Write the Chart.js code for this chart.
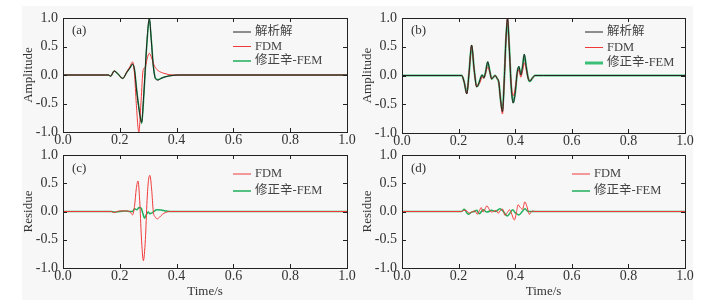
<!DOCTYPE html>
<html>
<head>
<meta charset="utf-8">
<script src="https://cdn.jsdelivr.net/npm/chart.js@4"></script>
<style>
  body { margin: 0; background: #fff; }
  #wrap { position: relative; width: 726px; height: 300px; }
  #bg { position: absolute; left: 22px; top: 6px; width: 671px; height: 294px; background: #f7f7f7; }
  canvas { position: absolute; }
</style>
</head>
<body>
<div id="wrap">
  <div id="bg"></div>
  <canvas id="pa"></canvas>
  <canvas id="pb"></canvas>
  <canvas id="pc"></canvas>
  <canvas id="pd"></canvas>
</div>
<script>
// (a) single wave: analytical / FDM / modified symplectic FEM
const tA   = [0, 0.15, 0.16, 0.168, 0.18, 0.195, 0.21, 0.225, 0.235, 0.245, 0.252, 0.259, 0.268, 0.277, 0.283, 0.289, 0.295, 0.304, 0.311, 0.318, 0.326, 0.335, 0.345, 0.355, 0.37, 0.39, 0.42, 0.5, 1.0];
const anaA = [0, 0, 0, -0.02, 0.07, 0.01, -0.06, 0.05, 0.12, 0.19, 0.08, -0.26, -0.61, -0.83, -0.45, 0.05, 0.55, 1.0, 0.6, 0.15, -0.07, -0.09, -0.06, -0.04, -0.02, -0.005, 0, 0, 0];
const femA = [0, 0, 0, -0.02, 0.07, 0.01, -0.06, 0.05, 0.12, 0.19, 0.09, -0.24, -0.6, -0.85, -0.5, 0.02, 0.52, 0.98, 0.62, 0.17, -0.06, -0.08, -0.06, -0.04, -0.02, -0.005, 0, 0, 0];
const tFdmA = [0, 0.15, 0.16, 0.168, 0.18, 0.195, 0.21, 0.225, 0.235, 0.245, 0.252, 0.258, 0.267, 0.275, 0.282, 0.29, 0.297, 0.304, 0.312, 0.32, 0.33, 0.34, 0.355, 0.37, 0.39, 0.5, 1.0];
const fdmA  = [0, 0, 0, -0.02, 0.07, 0.01, -0.06, 0.06, 0.14, 0.23, 0.0, -0.5, -1.0, -0.45, 0.08, 0.14, 0.3, 0.38, 0.3, 0.18, 0.1, 0.06, 0.03, 0.01, 0, 0, 0];

// (b) multi wave
const tB   = [0, 0.2, 0.211, 0.22, 0.229, 0.237, 0.246, 0.255, 0.264, 0.27, 0.276, 0.283, 0.289, 0.295, 0.303, 0.31, 0.317, 0.323, 0.329, 0.336, 0.342, 0.349, 0.355, 0.362, 0.367, 0.373, 0.379, 0.386, 0.393, 0.4, 0.407, 0.413, 0.42, 0.426, 0.432, 0.439, 0.446, 0.452, 0.46, 0.47, 0.5, 1.0];
const anaB = [0, 0, 0, -0.12, -0.32, 0.05, 0.53, 0.1, -0.2, -0.16, -0.07, 0.01, -0.04, 0.05, 0.24, 0.08, -0.06, -0.03, 0.0, -0.05, -0.12, -0.45, -0.63, 0.0, 0.6, 1.0, 0.5, -0.2, -0.48, -0.3, 0.05, 0.16, 0.01, 0.15, 0.37, 0.15, -0.05, -0.1, -0.05, 0.0, 0, 0];
const fdmB = [0, 0, 0, -0.12, -0.32, 0.05, 0.52, 0.1, -0.2, -0.14, -0.12, -0.02, -0.05, 0.03, 0.15, 0.06, -0.06, -0.03, 0.0, -0.05, -0.12, -0.47, -0.67, 0.0, 0.6, 1.0, 0.48, -0.15, -0.35, -0.22, 0.02, 0.1, -0.03, 0.08, 0.22, 0.1, -0.05, -0.09, -0.05, 0.0, 0, 0];
const femB = [0, 0, 0, -0.12, -0.31, 0.05, 0.52, 0.1, -0.19, -0.16, -0.07, 0.01, -0.04, 0.05, 0.23, 0.08, -0.06, -0.03, 0.0, -0.05, -0.12, -0.45, -0.62, 0.0, 0.6, 0.98, 0.5, -0.2, -0.47, -0.3, 0.05, 0.15, 0.01, 0.15, 0.36, 0.15, -0.05, -0.1, -0.05, 0.0, 0, 0];

// (c) residue of (a)
const tResFdmC = [0, 0.17, 0.18, 0.19, 0.2, 0.22, 0.235, 0.245, 0.252, 0.258, 0.264, 0.27, 0.276, 0.283, 0.29, 0.296, 0.301, 0.306, 0.312, 0.318, 0.325, 0.332, 0.34, 0.35, 0.36, 0.375, 0.4, 1.0];
const resFdmC  = [0, 0, -0.02, 0, 0.01, 0.01, 0.0, -0.06, 0.1, 0.4, 0.54, 0.2, -0.45, -0.87, -0.5, 0.2, 0.55, 0.64, 0.4, 0.0, -0.1, -0.13, -0.1, -0.05, -0.02, 0, 0, 0];
const tResFemC = [0, 0.17, 0.18, 0.2, 0.22, 0.235, 0.245, 0.252, 0.26, 0.268, 0.275, 0.281, 0.287, 0.294, 0.3, 0.306, 0.312, 0.32, 0.33, 0.345, 0.36, 0.375, 1.0];
const resFemC  = [0, 0, -0.01, 0.0, 0.01, 0.0, 0.0, 0.05, 0.03, 0.07, 0.06, -0.03, -0.12, -0.05, -0.01, -0.04, -0.03, 0.0, 0.03, 0.025, 0.01, 0, 0];

// (d) residue of (b)
const tResFdmD = [0, 0.21, 0.218, 0.226, 0.238, 0.25, 0.258, 0.266, 0.274, 0.28, 0.286, 0.292, 0.3, 0.308, 0.316, 0.324, 0.332, 0.34, 0.348, 0.356, 0.364, 0.372, 0.38, 0.388, 0.397, 0.405, 0.41, 0.418, 0.426, 0.434, 0.442, 0.45, 0.46, 0.47, 1.0];
const resFdmD  = [0, 0, 0.02, 0.02, -0.03, 0.0, 0.01, -0.05, 0.02, 0.07, -0.01, 0.03, 0.1, 0.04, -0.01, 0.0, 0.02, -0.03, 0.02, 0.04, -0.07, -0.02, 0.03, -0.05, -0.15, 0.0, 0.12, 0.07, 0.04, 0.17, 0.08, -0.05, 0.01, 0.0, 0];
const tResFemD = [0, 0.21, 0.22, 0.234, 0.246, 0.256, 0.264, 0.273, 0.287, 0.3, 0.317, 0.33, 0.346, 0.358, 0.372, 0.383, 0.391, 0.4, 0.413, 0.425, 0.435, 0.445, 0.46, 1.0];
const resFemD  = [0, 0, 0.04, -0.05, -0.01, 0.0, 0.02, -0.04, 0.03, -0.01, 0.02, 0.0, 0.05, 0.0, -0.08, -0.02, 0.03, -0.02, -0.06, 0.0, 0.05, 0.0, 0.0, 0];

const xTicks = [0, 0.2, 0.4, 0.6, 0.8, 1.0];
const yTicks = [-1, -0.5, 0, 0.5, 1];

const SERIF = "'Liberation Serif', 'Times New Roman', 'Noto Sans CJK SC', serif";
const BLACK = '#222222', RED = '#f03a3a', GREEN = '#1fae5a';

const pts = (t, v) => t.map((x, i) => ({ x, y: v[i] }));

// box frame, inward ticks on all four sides, panel letter and legend
const panelDeco = {
  id: 'panelDeco',
  afterDatasetsDraw(chart, args, opts) {
    const { ctx, chartArea: a, scales: { x, y } } = chart;
    ctx.save();
    ctx.strokeStyle = '#222';
    ctx.lineWidth = 1;
    ctx.strokeRect(Math.round(a.left) + 0.5, Math.round(a.top) + 0.5, Math.round(a.width), Math.round(a.height));
    ctx.beginPath();
    x.ticks.forEach(t => {
      const px = Math.round(x.getPixelForValue(t.value)) + 0.5;
      ctx.moveTo(px, a.bottom); ctx.lineTo(px, a.bottom - 4);
      ctx.moveTo(px, a.top); ctx.lineTo(px, a.top + 4);
    });
    y.ticks.forEach(t => {
      const py = Math.round(y.getPixelForValue(t.value)) + 0.5;
      ctx.moveTo(a.left, py); ctx.lineTo(a.left + 4, py);
      ctx.moveTo(a.right, py); ctx.lineTo(a.right - 4, py);
    });
    ctx.stroke();

    ctx.fillStyle = '#333';
    ctx.textBaseline = 'middle';
    ctx.font = '13px ' + SERIF;
    ctx.fillText(opts.letter, a.left + 9, a.top + opts.letterDy);

    ctx.font = '12.5px ' + SERIF;
    chart.data.datasets.forEach((ds, i) => {
      const ly = a.top + opts.legDy + i * opts.legGap;
      const lx = a.left + opts.legDx;
      ctx.strokeStyle = ds.borderColor;
      ctx.lineWidth = ds.legendWidth || ds.borderWidth;
      ctx.beginPath();
      ctx.moveTo(lx, ly); ctx.lineTo(lx + 18, ly);
      ctx.stroke();
      ctx.fillStyle = '#444';
      ctx.fillText(ds.label, lx + 22, ly);
    });
    ctx.restore();
  }
};

// box = wanted plot area in page pixels; canvas is placed so the axes land there
function panel(id, box, yTitle, withX, datasets, deco) {
  const W = 50;                 // y axis box width
  const H = withX ? 32 : 18;    // x axis box height
  const cv = document.getElementById(id);
  const left = box.l - W, top = box.t - deco.padTop;
  const width = box.r - left + deco.padRight, height = box.b + H - top;
  cv.style.left = left + 'px'; cv.style.top = top + 'px';
  cv.width = width; cv.height = height;
  new Chart(cv, {
    type: 'line',
    data: { datasets },
    plugins: [panelDeco],
    options: {
      responsive: false,
      animation: false,
      layout: { padding: { left: 0, right: deco.padRight, top: deco.padTop, bottom: 0 } },
      elements: { point: { radius: 0 }, line: { cubicInterpolationMode: 'monotone' } },
      plugins: { legend: { display: false }, tooltip: { enabled: false }, panelDeco: deco },
      scales: {
        x: {
          type: 'linear', min: 0, max: 1,
          afterBuildTicks: s => { s.ticks = xTicks.map(v => ({ value: v })); },
          afterFit: s => { s.height = H; },
          grid: { display: false, drawTicks: false }, border: { display: false },
          ticks: { padding: 0, maxRotation: 0, color: '#333', font: { family: SERIF, size: 14 }, callback: v => v.toFixed(1) },
          title: { display: withX, text: 'Time/s', color: '#333', font: { family: SERIF, size: 13 }, padding: { top: 0, bottom: 1 } }
        },
        y: {
          min: -1, max: 1,
          afterBuildTicks: s => { s.ticks = yTicks.map(v => ({ value: v })); },
          afterFit: s => { s.width = W; },
          grid: { display: false, drawTicks: false }, border: { display: false },
          ticks: { padding: 5, color: '#333', font: { family: SERIF, size: 14 }, callback: v => v.toFixed(1) },
          title: { display: true, text: yTitle, color: '#333', font: { family: SERIF, size: 13 }, padding: { top: 8, bottom: 0 } }
        }
      }
    }
  });
}

panel('pa', { l: 63, r: 347, t: 18, b: 132 }, 'Amplitude', false, [
  { label: '解析解', data: pts(tA, anaA), borderColor: BLACK, borderWidth: 1 },
  { label: 'FDM', data: pts(tFdmA, fdmA), borderColor: RED, borderWidth: 1 },
  { label: '修正辛-FEM', data: pts(tA, femA), borderColor: GREEN, borderWidth: 1.5 }
], { padTop: 18, padRight: 16, letter: '(a)', letterDy: 13, legDx: 170, legDy: 14, legGap: 14.5 });

panel('pb', { l: 402, r: 685, t: 18, b: 133 }, 'Amplitude', false, [
  { label: '解析解', data: pts(tB, anaB), borderColor: BLACK, borderWidth: 1 },
  { label: 'FDM', data: pts(tB, fdmB), borderColor: RED, borderWidth: 1 },
  { label: '修正辛-FEM', data: pts(tB, femB), borderColor: '#3cc077', borderWidth: 2, legendWidth: 3 }
], { padTop: 18, padRight: 16, letter: '(b)', letterDy: 13, legDx: 183, legDy: 14, legGap: 15.5 });

panel('pc', { l: 63, r: 347, t: 155, b: 268 }, 'Residue', true, [
  { label: 'FDM', data: pts(tResFdmC, resFdmC), borderColor: RED, borderWidth: 1 },
  { label: '修正辛-FEM', data: pts(tResFemC, resFemC), borderColor: GREEN, borderWidth: 1.5 }
], { padTop: 15, padRight: 16, letter: '(c)', letterDy: 14, legDx: 170, legDy: 19, legGap: 17 });

panel('pd', { l: 402, r: 685, t: 155, b: 268 }, 'Residue', true, [
  { label: 'FDM', data: pts(tResFdmD, resFdmD), borderColor: RED, borderWidth: 1 },
  { label: '修正辛-FEM', data: pts(tResFemD, resFemD), borderColor: GREEN, borderWidth: 1.5 }
], { padTop: 15, padRight: 16, letter: '(d)', letterDy: 14, legDx: 170, legDy: 19, legGap: 17 });
</script>
</body>
</html>
